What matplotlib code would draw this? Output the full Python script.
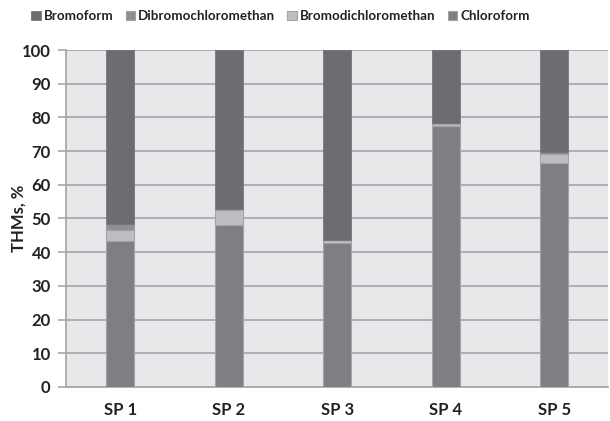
import matplotlib
matplotlib.use("Agg")
import matplotlib.pyplot as plt
import numpy as np

categories = ["SP 1", "SP 2", "SP 3", "SP 4", "SP 5"]
chloroform = [43.3, 48.0, 42.8, 77.5, 66.4]
bromodichloromethan = [3.4, 4.5, 0.7, 0.6, 2.8]
dibromochloromethan = [1.8, 0.3, 0.2, 0.1, 0.5]
bromoform = [100 - a - b - c for a, b, c in zip(chloroform, bromodichloromethan, dibromochloromethan)]
yticks = list(range(0, 101, 10))

plt.rcParams['font.family'] = ['Lato', 'DejaVu Sans']
fig = plt.figure(figsize=(6.1, 4.21), dpi=100)
ax = fig.add_axes([0.1082, 0.0808, 0.8893, 0.8004])
ax.set_facecolor('#e8e8ea')

x = np.arange(len(categories))
w = 0.26
edge = '#a3a4a7'
c_chl = '#7e7f82'
c_bdcm = '#bdbec1'
c_dbcm = '#8d8e91'
c_brf = '#6c6d71'

b1 = ax.bar(x, chloroform, w, color=c_chl, edgecolor=edge, linewidth=0.8, zorder=3, label='Chloroform')
bottom = np.array(chloroform)
b2 = ax.bar(x, bromodichloromethan, w, bottom=bottom, color=c_bdcm, edgecolor=edge, linewidth=0.8, zorder=3, label='Bromodichloromethan')
bottom = bottom + np.array(bromodichloromethan)
b3 = ax.bar(x, dibromochloromethan, w, bottom=bottom, color=c_dbcm, edgecolor=edge, linewidth=0.8, zorder=3, label='Dibromochloromethan')
bottom = bottom + np.array(dibromochloromethan)
b4 = ax.bar(x, bromoform, w, bottom=bottom, color=c_brf, edgecolor=c_brf, linewidth=0.5, zorder=3, label='Bromoform')

ax.set_xlim(-0.5, len(categories) - 0.5)
ax.set_ylim(0, 100)
ax.set_yticks(yticks)
ax.set_yticklabels([str(t) for t in yticks], fontsize=12, fontweight='bold', color='#222222')
ax.set_xticks(x)
ax.set_xticklabels(categories, fontsize=12, fontweight='bold', color='#222222')
ax.tick_params(axis='x', length=0, pad=11)
ax.tick_params(axis='y', length=6, width=1.2, color='#a7a9ac', pad=5)
ax.yaxis.grid(True, color='#a7a9ac', linewidth=1.3, zorder=1)
ax.set_axisbelow(True)
for s in ['top', 'right']:
    ax.spines[s].set_visible(False)
ax.spines['left'].set_color('#a7a9ac')
ax.spines['left'].set_linewidth(1.3)
ax.spines['bottom'].set_color('#a7a9ac')
ax.spines['bottom'].set_linewidth(1.3)
ax.set_ylabel('THMs, %', fontsize=12, fontweight='bold', color='#222222')
ax.yaxis.set_label_coords(-0.072, 0.5)

handles = [b4, b3, b2, b1]
labels = ['Bromoform', 'Dibromochloromethan', 'Bromodichloromethan', 'Chloroform']
leg = fig.legend(handles, labels, loc='center', bbox_to_anchor=(0.46, 0.962), ncol=4,
                 frameon=False, fontsize=9.6, handlelength=0.7, handleheight=0.7,
                 handletextpad=0.25, columnspacing=0.9, borderaxespad=0)
for t in leg.get_texts():
    t.set_fontweight('bold')
    t.set_color('#222222')

fig.savefig('out.png', dpi=100)
